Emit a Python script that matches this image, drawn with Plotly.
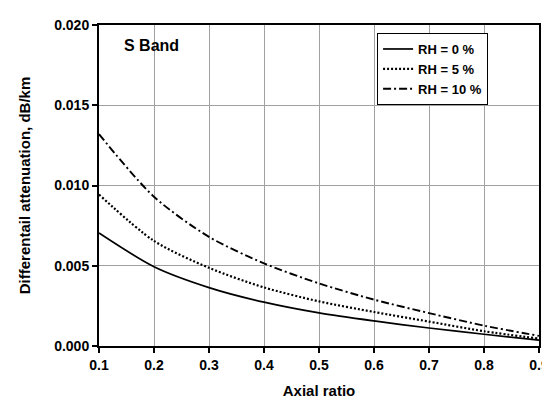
import plotly.graph_objects as go

axial_ratio = [0.1, 0.2, 0.3, 0.4, 0.5, 0.6, 0.7, 0.8, 0.9]
rh0 = [0.00704, 0.00494, 0.00364, 0.00273, 0.00206, 0.00156, 0.00112, 0.00073, 0.00036]
rh5 = [0.00944, 0.00655, 0.00487, 0.00365, 0.00278, 0.00212, 0.00152, 0.00092, 0.00046]
rh10 = [0.0132, 0.0093, 0.0068, 0.00515, 0.0039, 0.00289, 0.00205, 0.00127, 0.00063]
names = ["RH = 0 %", "RH = 5 %", "RH = 10 %"]
x_ticks = [0.1, 0.2, 0.3, 0.4, 0.5, 0.6, 0.7, 0.8, 0.9]
x_ticklabels = ["0.1", "0.2", "0.3", "0.4", "0.5", "0.6", "0.7", "0.8", "0.9"]
y_ticks = [0.0, 0.005, 0.010, 0.015, 0.020]
y_ticklabels = ["0.000", "0.005", "0.010", "0.015", "0.020"]

font = "Liberation Sans, Arial, sans-serif"
fig = go.Figure()
styles = [(rh0, names[0], "solid", 1.7), (rh5, names[1], "2px,2px", 2.2), (rh10, names[2], "8px,3px,2px,3px", 1.9)]
for y, n, d, w in styles:
    fig.add_trace(go.Scatter(x=axial_ratio, y=y, name="<b>" + n + "</b>", mode="lines",
                             line=dict(color="black", width=w, dash=d, shape="spline", smoothing=0.8)))

fig.update_layout(
    width=550, height=404,
    margin=dict(l=91, r=9, t=15, b=66),
    paper_bgcolor="white", plot_bgcolor="white",
    font=dict(family=font, size=12, color="black"),
    showlegend=True,
    legend=dict(x=0.632, y=0.975, xanchor="left", yanchor="top",
                bordercolor="black", borderwidth=1, bgcolor="white",
                font=dict(family=font, size=13, color="black"),
                tracegroupgap=0, itemwidth=30, entrywidth=120),
    annotations=[dict(text="<b>S Band</b>", x=0.052, y=0.935, xref="paper", yref="paper",
                      showarrow=False, xanchor="left", yanchor="middle",
                      font=dict(family=font, size=16, color="black"))],
)
fig.update_xaxes(range=[0.1, 0.9], tickmode="array", tickvals=x_ticks,
                 ticktext=["<b>" + t + "</b>" for t in x_ticklabels],
                 showgrid=True, gridcolor="#a0a0a0", gridwidth=1,
                 showline=True, linecolor="black", linewidth=2, mirror=True,
                 ticks="outside", ticklen=5, tickcolor="black", tickwidth=1.5,
                 tickfont=dict(family=font, size=14, color="black"),
                 title=dict(text="<b>Axial ratio</b>", font=dict(family=font, size=15), standoff=14),
                 zeroline=False)
fig.update_yaxes(range=[0, 0.02], tickmode="array", tickvals=y_ticks,
                 ticktext=["<b>" + t + "</b>" for t in y_ticklabels],
                 showgrid=True, gridcolor="#a0a0a0", gridwidth=1,
                 showline=True, linecolor="black", linewidth=2, mirror=True,
                 ticks="outside", ticklen=5, tickcolor="black", tickwidth=1.5,
                 tickfont=dict(family=font, size=14, color="black"),
                 title=dict(text="<b>Differentail attenuation, dB/km</b>", font=dict(family=font, size=15), standoff=20),
                 zeroline=False)
fig.write_html("out.html")
